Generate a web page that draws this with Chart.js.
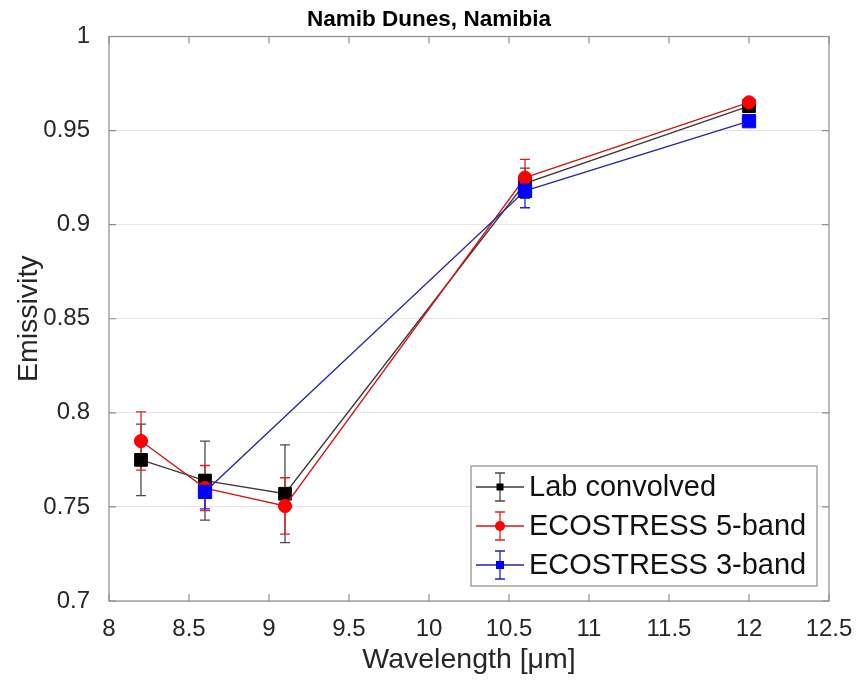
<!DOCTYPE html>
<html><head><meta charset="utf-8">
<script src="https://cdn.jsdelivr.net/npm/chart.js@4.4.1/dist/chart.umd.min.js"></script>
<style>html,body{margin:0;padding:0;background:#fff;}#wrap{width:858px;height:682px;}</style>
</head><body><div id="wrap"><canvas id="c" width="858" height="682"></canvas></div>
<script>
// ---- data ----
const wavelengths5 = [8.2, 8.6, 9.1, 10.6, 12];
const wavelengths3 = [8.6, 10.6, 12];
const labConvolved = [0.775, 0.764, 0.757, 0.922, 0.963];
const labErr       = [0.019, 0.021, 0.026, 0.008, 0.002];
const eco5Band     = [0.785, 0.760, 0.7505, 0.925, 0.965];
const eco5Err      = [0.0155, 0.012, 0.015, 0.0097, 0.001];
const eco3Band     = [0.758, 0.918, 0.955];
const eco3Err      = [0.009, 0.009, 0.001];
const xTickValues  = [8, 8.5, 9, 9.5, 10, 10.5, 11, 11.5, 12, 12.5];
const yTickValues  = [0.7, 0.75, 0.8, 0.85, 0.9, 0.95, 1];
const seriesNames  = ['Lab convolved', 'ECOSTRESS 5-band', 'ECOSTRESS 3-band'];
const titleText    = 'Namib Dunes, Namibia';
const xTitle       = 'Wavelength [\u03BCm]';
const yTitle       = 'Emissivity';

const FONT = "'Liberation Sans', Arial, Helvetica, sans-serif";
const toXY = (xs, ys) => xs.map((x, i) => ({x: x, y: ys[i]}));

const styles = [
  {line: '#3a3a3a', marker: '#000000', err: '#4a4a4a', shape: 'rect', r: 9},
  {line: '#d01818', marker: '#ff0000', err: '#e02020', shape: 'circle', r: 6.6},
  {line: '#2626a8', marker: '#0000ff', err: '#2020c8', shape: 'rect', r: 9.4}
];
const errs = [labErr, eco5Err, eco3Err];

const errorBars = {
  id: 'errorBars',
  beforeDatasetsDraw(chart) {
    const {ctx, chartArea: a, scales: {x, y}} = chart;
    ctx.save();
    ctx.strokeStyle = '#8c8c8c';
    ctx.lineWidth = 1.2;
    ctx.strokeRect(a.left, a.top, a.right - a.left, a.bottom - a.top);
    const tl = 7;
    ctx.beginPath();
    xTickValues.forEach(v => {
      const px = x.getPixelForValue(v);
      ctx.moveTo(px, a.bottom); ctx.lineTo(px, a.bottom - tl);
      ctx.moveTo(px, a.top); ctx.lineTo(px, a.top + tl);
    });
    yTickValues.forEach(v => {
      const py = y.getPixelForValue(v);
      ctx.moveTo(a.left, py); ctx.lineTo(a.left + tl, py);
      ctx.moveTo(a.right, py); ctx.lineTo(a.right - tl, py);
    });
    ctx.stroke();
    chart.data.datasets.forEach((ds, di) => {
      const e = errs[di];
      ctx.strokeStyle = styles[di].err;
      ctx.lineWidth = 1.3;
      ds.data.forEach((p, i) => {
        const px = x.getPixelForValue(p.x);
        const y1 = y.getPixelForValue(p.y + e[i]);
        const y2 = y.getPixelForValue(p.y - e[i]);
        const cw = 5;
        ctx.beginPath();
        ctx.moveTo(px, y1); ctx.lineTo(px, y2);
        ctx.moveTo(px - cw, y1); ctx.lineTo(px + cw, y1);
        ctx.moveTo(px - cw, y2); ctx.lineTo(px + cw, y2);
        ctx.stroke();
      });
    });
    ctx.restore();
  }
};

const legendBox = {
  id: 'legendBox',
  afterDatasetsDraw(chart) {
    const {ctx} = chart;
    const bx = 471, by = 466, bw = 346, bh = 120;
    ctx.save();
    ctx.fillStyle = '#ffffff';
    ctx.fillRect(bx, by, bw, bh);
    ctx.strokeStyle = '#8c8c8c';
    ctx.lineWidth = 1.2;
    ctx.strokeRect(bx, by, bw, bh);
    const rows = [487, 526, 565];
    seriesNames.forEach((name, i) => {
      const cy = rows[i], st = styles[i];
      ctx.strokeStyle = st.line; ctx.lineWidth = 1.3;
      ctx.beginPath(); ctx.moveTo(476, cy); ctx.lineTo(524, cy); ctx.stroke();
      ctx.strokeStyle = st.err;
      ctx.beginPath();
      ctx.moveTo(500, cy - 14); ctx.lineTo(500, cy + 14);
      ctx.moveTo(495, cy - 14); ctx.lineTo(505, cy - 14);
      ctx.moveTo(495, cy + 14); ctx.lineTo(505, cy + 14);
      ctx.stroke();
      ctx.fillStyle = st.marker;
      if (st.shape === 'circle') {
        ctx.beginPath(); ctx.arc(500, cy, 5, 0, Math.PI * 2); ctx.fill();
      } else {
        const s = i === 0 ? 3.5 : 4;
        ctx.fillRect(500 - s, cy - s, 2 * s, 2 * s);
      }
      ctx.fillStyle = '#111111';
      ctx.font = '29px ' + FONT;
      ctx.textAlign = 'left';
      ctx.textBaseline = 'middle';
      ctx.fillText(name, 529, cy + 1);
    });
    ctx.restore();
  }
};

const datasets = [
  toXY(wavelengths5, labConvolved),
  toXY(wavelengths5, eco5Band),
  toXY(wavelengths3, eco3Band)
].map((d, i) => ({
  label: seriesNames[i],
  data: d,
  showLine: true,
  borderColor: styles[i].line,
  borderWidth: 1.4,
  pointStyle: styles[i].shape,
  pointRadius: styles[i].r,
  pointHoverRadius: styles[i].r,
  pointBackgroundColor: styles[i].marker,
  pointBorderColor: styles[i].marker,
  pointBorderWidth: 1,
  fill: false,
  tension: 0,
  order: 2 - i
}));

new Chart(document.getElementById('c'), {
  type: 'scatter',
  data: {datasets: datasets},
  options: {
    responsive: false,
    animation: false,
    devicePixelRatio: 1,
    layout: {padding: 0},
    plugins: {
      legend: {display: false},
      tooltip: {enabled: false},
      title: {
        display: true, text: titleText, color: '#000',
        font: {family: FONT, size: 22.5, weight: 'bold'},
        padding: {top: 6, bottom: 3.5}
      }
    },
    scales: {
      x: {
        type: 'linear', min: 8, max: 12.5,
        afterBuildTicks: s => { s.ticks = xTickValues.map(v => ({value: v})); },
        afterFit: s => { s.height = 81; s.paddingLeft = 0; s.paddingRight = 0; },
        grid: {display: false, drawTicks: false},
        border: {display: false},
        ticks: {
          color: '#262626', padding: 14, maxRotation: 0, autoSkip: false,
          font: {family: FONT, size: 24},
          callback: v => String(+(+v).toFixed(2))
        },
        title: {
          display: true, text: xTitle, color: '#262626',
          font: {family: FONT, size: 28.5}, padding: {top: 0, bottom: 5}
        }
      },
      y: {
        type: 'linear', min: 0.7, max: 1,
        afterBuildTicks: s => { s.ticks = yTickValues.map(v => ({value: v})); },
        afterFit: s => { s.width = 109; s.paddingTop = 0; s.paddingBottom = 0; },
        grid: {color: '#e6e6e6', lineWidth: 1, drawTicks: false},
        border: {display: false},
        ticks: {
          color: '#262626', padding: 19, autoSkip: false,
          font: {family: FONT, size: 24},
          callback: v => String(+(+v).toFixed(2))
        },
        title: {
          display: true, text: yTitle, color: '#262626',
          font: {family: FONT, size: 28.5}, padding: {top: 12, bottom: 0}
        }
      },
      yRightSpace: {
        type: 'linear', position: 'right', min: 0.7, max: 1,
        afterFit: s => { s.width = 29; s.paddingTop = 0; s.paddingBottom = 0; },
        grid: {display: false, drawTicks: false},
        border: {display: false},
        ticks: {display: false},
        title: {display: false}
      }
    }
  },
  plugins: [errorBars, legendBox]
});
</script>
</body></html>
